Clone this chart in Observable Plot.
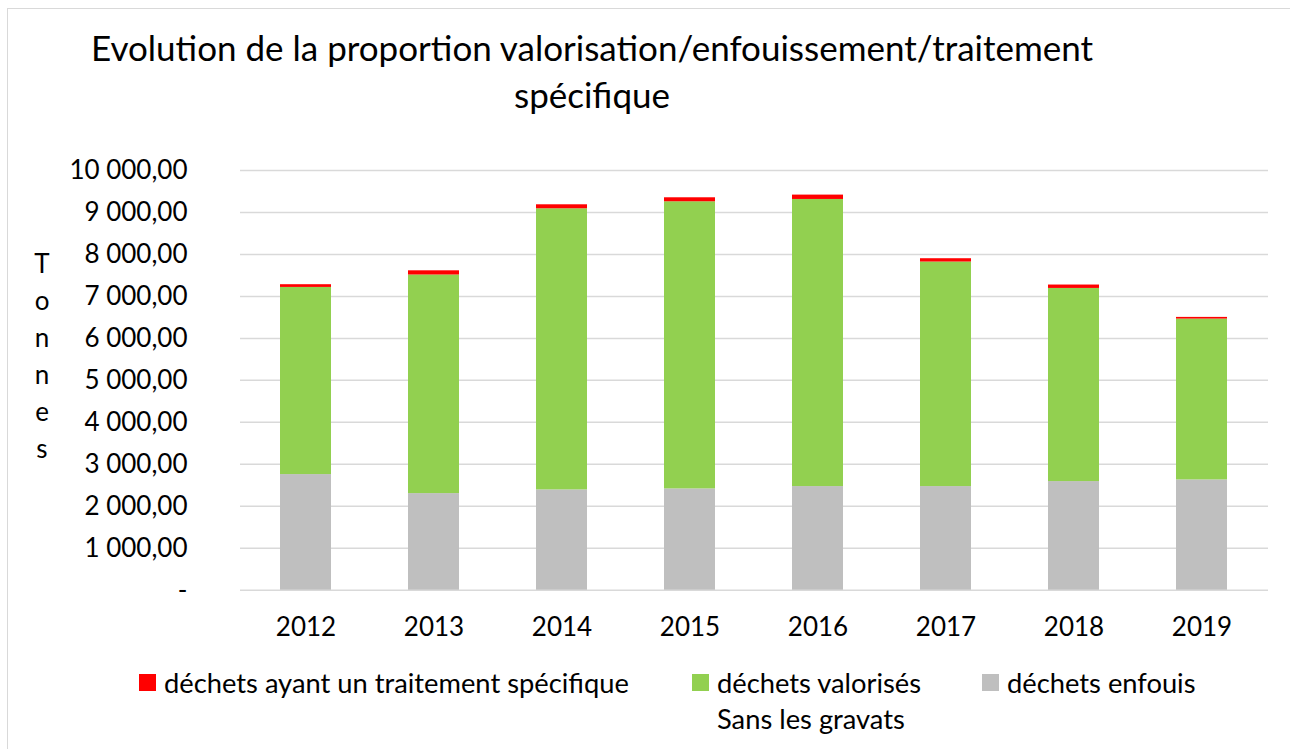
<!DOCTYPE html>
<html>
<head>
<meta charset="utf-8">
<script src="https://cdn.jsdelivr.net/npm/d3@7"></script>
<script src="https://cdn.jsdelivr.net/npm/@observablehq/plot@0.6"></script>
<style>
  html, body { margin: 0; padding: 0; background: #fff; }
  body { width: 1290px; height: 749px; position: relative; overflow: hidden; font-family: Lato, sans-serif; color: #000; }
  #frame { position: absolute; left: 7px; top: 8px; width: 1290px; height: 760px; border-left: 1.5px solid #d9d9d9; border-top: 1.5px solid #d9d9d9; box-sizing: border-box; }
  #chart { position: absolute; left: 0; top: 0; }
  .title { position: absolute; left: 0; width: 1184px; text-align: center; font-size: 35px; line-height: 1; white-space: nowrap; }
  #ylabel { position: absolute; left: 30px; width: 24px; top: 245px; text-align: center; font-size: 26px; line-height: 37px; }
  .leg { position: absolute; font-size: 27.3px; line-height: 1; white-space: nowrap; }
  .sw { position: absolute; width: 17px; height: 17px; }
</style>
</head>
<body>
<div id="frame"></div>
<div id="chart"></div>
<div class="title" style="top:30px">Evolution de la proportion valorisation/enfouissement/traitement</div>
<div class="title" style="top:77px">spécifique</div>
<div id="ylabel"></div>
<div id="legend"></div>
<script>
const years = ["2012","2013","2014","2015","2016","2017","2018","2019"];
const enfouis = [2755, 2302, 2390, 2414, 2469, 2469, 2588, 2628];
const valorises = [4459, 5208, 6698, 6841, 6841, 5350, 4602, 3832];
const specifique = [65, 100, 95, 95, 104, 79, 81, 40];
const seriesNames = ["déchets ayant un traitement spécifique", "déchets valorisés", "déchets enfouis"];
const seriesColors = ["#ff0000", "#92d050", "#bfbfbf"];
const yTicks = [0,1000,2000,3000,4000,5000,6000,7000,8000,9000,10000];
const yLabel = "Tonnes";
const note = "Sans les gravats";

const rows = [];
years.forEach((y, i) => {
  rows.push({year: y, series: seriesNames[2], value: enfouis[i]});
  rows.push({year: y, series: seriesNames[1], value: valorises[i]});
  rows.push({year: y, series: seriesNames[0], value: specifique[i]});
});

const fr = d3.formatLocale({decimal: ",", thousands: "\u00a0", grouping: [3]});
const fmt = fr.format(",.2f");

const chart = Plot.plot({
  width: 1290,
  height: 749,
  marginTop: 170,
  marginBottom: 159.3,
  marginLeft: 240,
  marginRight: 22,
  style: {fontFamily: "Lato, sans-serif", fontSize: "26px", color: "#000", background: "transparent"},
  x: {domain: years, paddingInner: 0.6, paddingOuter: 0.3, label: null},
  y: {domain: [0, 10000], label: null},
  color: {domain: seriesNames, range: seriesColors},
  marks: [
    Plot.gridY(yTicks, {stroke: "#d9d9d9", strokeOpacity: 1, strokeWidth: 1.5}),
    Plot.barY(rows, Plot.stackY({order: [seriesNames[2], seriesNames[1], seriesNames[0]]}, {x: "year", y: "value", z: "series", fill: "series"})),
    Plot.axisY({ticks: yTicks, tickSize: 0, tickPadding: 53, tickFormat: d => d === 0 ? "-" : fmt(d), label: null, fontSize: 26}),
    Plot.axisX({tickSize: 0, tickPadding: 27, label: null, fontSize: 26})
  ]
});
document.getElementById("chart").appendChild(chart);

document.getElementById("ylabel").innerHTML = yLabel.split("").join("<br>");

const legendPos = [
  {sx: 139, tx: 164},
  {sx: 692, tx: 717},
  {sx: 982, tx: 1007}
];
const leg = document.getElementById("legend");
seriesNames.forEach((name, i) => {
  const sw = document.createElement("div");
  sw.className = "sw";
  sw.style.left = legendPos[i].sx + "px";
  sw.style.top = "674px";
  sw.style.background = seriesColors[i];
  leg.appendChild(sw);
  const t = document.createElement("div");
  t.className = "leg";
  t.style.left = legendPos[i].tx + "px";
  t.style.top = "669px";
  t.textContent = name;
  leg.appendChild(t);
});
const n = document.createElement("div");
n.className = "leg";
n.style.left = "717px";
n.style.top = "705px";
n.textContent = note;
leg.appendChild(n);
</script>
</body>
</html>
